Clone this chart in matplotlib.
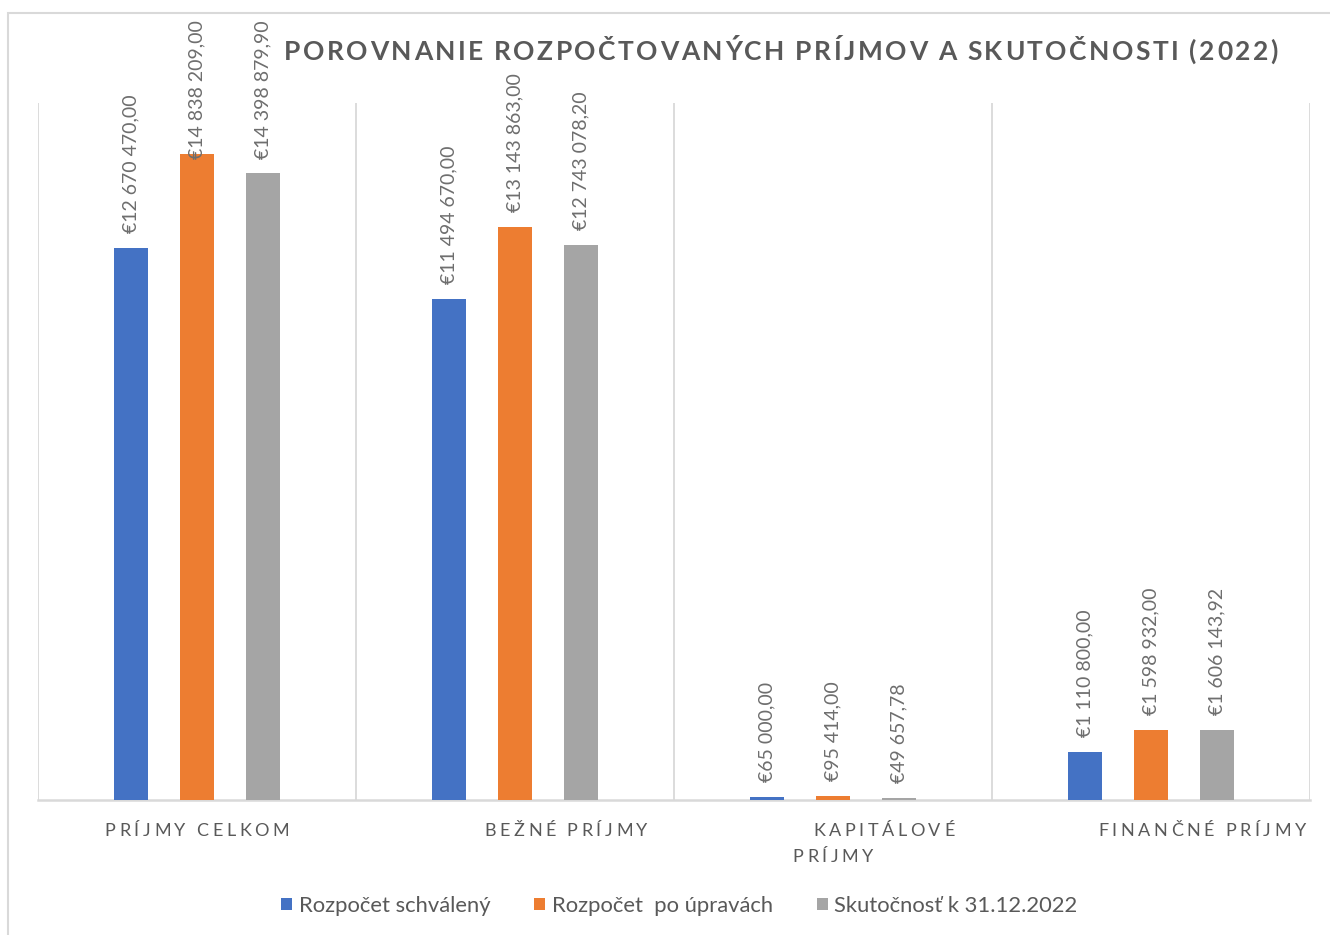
import numpy as np
import matplotlib
matplotlib.use("Agg")
import matplotlib.pyplot as plt
from matplotlib.font_manager import FontProperties
from matplotlib.patches import Rectangle

# data
categories = ["PRÍJMY CELKOM", "BEŽNÉ PRÍJMY", "KAPITÁLOVÉ\nPRÍJMY", "FINANČNÉ PRÍJMY"]
series_names = ["Rozpočet schválený", "Rozpočet  po úpravách", "Skutočnosť k 31.12.2022"]
schvaleny = [12670470.00, 11494670.00, 65000.00, 1110800.00]
po_upravach = [14838209.00, 13143863.00, 95414.00, 1598932.00]
skutocnost = [14398879.90, 12743078.20, 49657.78, 1606143.92]
title = "POROVNANIE ROZPOČTOVANÝCH PRÍJMOV A SKUTOČNOSTI (2022)"

colors = ["#4472C4", "#ED7D31", "#A5A5A5"]
text_gray = "#595959"
label_gray = "#6E6E6E"
grid_gray = "#D9D9D9"
FONT = ["Lato", "DejaVu Sans"]

W, H = 1330, 935
fig = plt.figure(figsize=(W / 100, H / 100), dpi=100)
ax = fig.add_axes([38 / W, 1 - 800 / H, (1310 - 38) / W, (800 - 103) / H])

# chart border
fig.patches.append(Rectangle((8 / W, -0.1), 1.2, 1 - 13 / H + 0.1, transform=fig.transFigure,
                             fill=False, edgecolor=grid_gray, lw=1.5))

x = np.arange(len(categories))
bw = 0.107
step = 0.207
all_series = [schvaleny, po_upravach, skutocnost]
bars = []
for k, vals in enumerate(all_series):
    b = ax.bar(x + (k - 1) * step, vals, width=bw, color=colors[k], label=series_names[k], zorder=3)
    bars.append(b)

ax.set_xlim(-0.5, len(categories) - 0.5)
ax.set_ylim(0, 16000000)
ax.set_yticks([])
ax.set_xticks([])
for s in ["top", "left", "right"]:
    ax.spines[s].set_visible(False)
ax.spines["bottom"].set_color(grid_gray)
ax.spines["bottom"].set_linewidth(1.8)
for xv in np.arange(-0.5, len(categories), 1.0):
    ax.axvline(xv, color=grid_gray, lw=1.3, zorder=1)

fig.canvas.draw()
r = fig.canvas.get_renderer()

# data labels (rotated), kept inside the chart area like Excel does
lab_fp = FontProperties(family=FONT, size=14)
px_per_unit = ax.get_window_extent().height / 16000000
top_cap = (800 - 20) / px_per_unit  # data value at chart top edge
pad = 15 / px_per_unit


def fmt(v):
    return "€" + f"{v:,.2f}".replace(",", " ").replace(".", ",")


for k, vals in enumerate(all_series):
    for i, v in enumerate(vals):
        s = fmt(v)
        length = r.get_text_width_height_descent(s, lab_fp, ismath=False)[0] / px_per_unit
        yb = min(v + pad, top_cap - length)
        ax.text(i + (k - 1) * step, yb, s, rotation=90, ha="center", va="bottom",
                fontproperties=lab_fp, color=label_gray, zorder=4)


def spaced(text, cx, base_y, fp, extra, color):
    # letter-spaced text, cx / base_y in figure pixels (from top)
    widths = []
    for ch in text:
        if ch == " ":
            widths.append(0.22 * fp.get_size_in_points() * 100 / 72)
        else:
            widths.append(r.get_text_width_height_descent(ch, fp, ismath=False)[0])
    total = sum(widths) + extra * (len(text) - 1)
    xp = cx - total / 2
    for ch, w in zip(text, widths):
        if ch != " ":
            fig.text(xp / W, 1 - base_y / H, ch, fontproperties=fp, color=color,
                     ha="left", va="baseline")
        xp += w + extra


# title
title_fp = FontProperties(family=FONT, size=19, weight="bold")
spaced(title, 781, 60, title_fp, 2.5, text_gray)

# category labels
cat_fp = FontProperties(family=FONT, size=13)
cat_shift = [0.0, 0.16, 0.16, 0.16]
line2_shift = [0.0, 0.0, 0.0, 0.0]
for i, c in enumerate(categories):
    lines = c.split("\n")
    cx = ax.transData.transform((i + cat_shift[i], 0))[0]
    spaced(lines[0], cx, 836, cat_fp, 3.6, text_gray)
    if len(lines) > 1:
        cx2 = ax.transData.transform((i + line2_shift[i], 0))[0]
        spaced(lines[1], cx2, 862, cat_fp, 3.6, text_gray)

fig.legend(handles=bars, labels=series_names, loc="center", bbox_to_anchor=(679.5 / W, 1 - 906 / H),
           ncol=3, frameon=False, prop=FontProperties(family=FONT, size=15.8),
           handlelength=0.5, handleheight=0.5, handletextpad=0.3, columnspacing=2.0,
           labelcolor=text_gray)

fig.savefig("out.png", dpi=100)
